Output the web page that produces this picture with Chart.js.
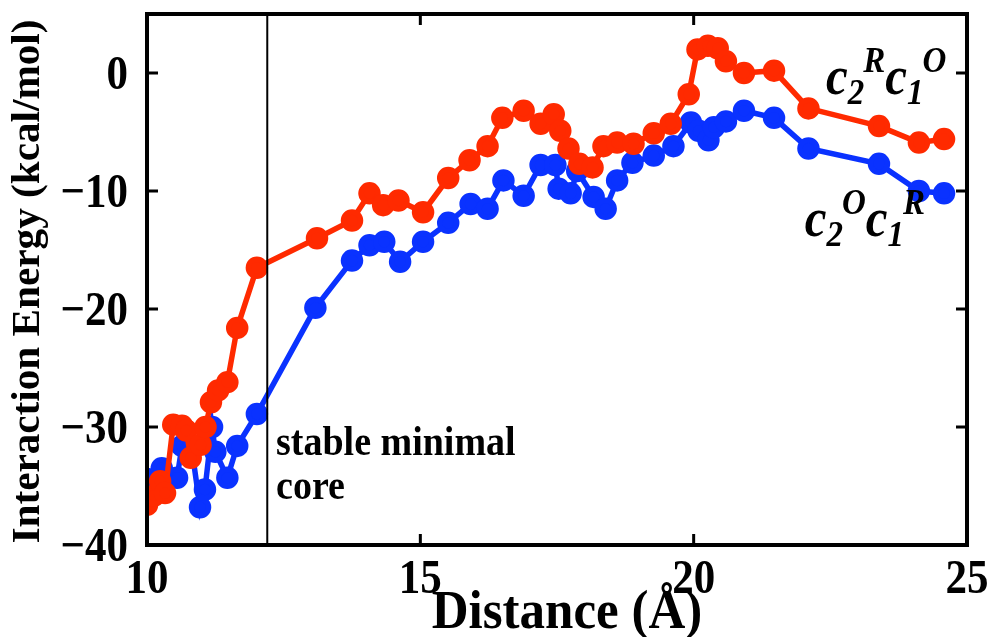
<!DOCTYPE html>
<html>
<head>
<meta charset="utf-8">
<script src="https://cdn.jsdelivr.net/npm/chart.js@4"></script>
<style>
  html, body { margin: 0; padding: 0; background: #fff; }
  #wrap { width: 995px; height: 637px; }
</style>
</head>
<body>
<div id="wrap"><canvas id="energyChart" width="995" height="637"></canvas></div>
<script>
// c2R c1O (red)
const redDist = [10.0, 10.13, 10.24, 10.33, 10.48, 10.64, 10.72, 10.8, 10.98, 11.07, 11.17, 11.3, 11.47, 11.65, 12.01,
  13.11, 13.75, 14.07, 14.32, 14.6, 15.05, 15.51, 15.9, 16.23, 16.5, 16.89, 17.2, 17.44, 17.56, 17.71, 17.91, 18.15,
  18.35, 18.6, 18.9, 19.27, 19.58, 19.91, 20.07, 20.26, 20.44, 20.59, 20.92, 21.47, 22.1, 23.39, 24.12, 24.58];
const redEnergy = [-36.6, -35.8, -34.6, -35.6, -29.8, -29.9, -30.3, -32.6, -31.5, -30.0, -27.9, -26.9, -26.2, -21.6, -16.5,
  -14.0, -12.5, -10.2, -11.2, -10.8, -11.8, -8.9, -7.4, -6.2, -3.8, -3.2, -4.3, -3.5, -4.9, -6.4, -7.7, -8.0,
  -6.2, -5.9, -6.0, -5.1, -4.3, -1.8, 2.0, 2.3, 2.1, 1.0, 0.0, 0.2, -3.0, -4.5, -5.9, -5.6];

// c2O c1R (blue)
const blueDist = [10.0, 10.27, 10.55, 10.64, 10.82, 10.97, 11.06, 11.19, 11.25, 11.47, 11.65, 12.01,
  13.08, 13.75, 14.07, 14.34, 14.63, 15.05, 15.51, 15.92, 16.23, 16.52, 16.89, 17.2, 17.47, 17.53, 17.75, 17.87,
  18.17, 18.39, 18.6, 18.88, 19.27, 19.63, 19.95, 20.09, 20.27, 20.37, 20.59, 20.92, 21.47, 22.1, 23.39, 24.12, 24.58];
const blueEnergy = [-34.4, -33.5, -34.3, -31.6, -31.9, -36.8, -35.3, -30.0, -32.1, -34.3, -31.6, -28.9,
  -19.9, -15.9, -14.6, -14.3, -16.0, -14.3, -12.7, -11.1, -11.5, -9.1, -10.4, -7.8, -7.8, -9.8, -10.2, -8.3,
  -10.5, -11.5, -9.1, -7.6, -7.0, -6.2, -4.2, -4.9, -5.7, -4.6, -4.1, -3.2, -3.8, -6.4, -7.7, -10.0, -10.2];

const xTicks = [10, 15, 20, 25];
const yTicks = [-40, -30, -20, -10, 0];
const coreLine = 12.2;
const xTitle = 'Distance (Å)';
const yTitle = 'Interaction Energy (kcal/mol)';

const serif = '"Liberation Serif", "Times New Roman", serif';
const estica = 1.13; // o texto do original é mais alto que largo

function pontos(xs, ys) {
  return xs.map((x, i) => ({ x: x, y: ys[i] }));
}

function texto(ctx, str, x, y, font, align, k) {
  ctx.save();
  ctx.translate(x, y);
  ctx.scale(1, k);
  ctx.font = font;
  ctx.textAlign = align;
  ctx.textBaseline = 'alphabetic';
  ctx.fillText(str, 0, 0);
  ctx.restore();
}

// moldura, ticks para dentro, linha vertical, rótulos e textos
const moldura = {
  id: 'moldura',
  afterDatasetsDraw(chart) {
    const { ctx, chartArea: a, scales: { x, y } } = chart;
    ctx.save();
    ctx.strokeStyle = '#000';

    // linha "stable minimal core"
    ctx.lineWidth = 2;
    const xc = x.getPixelForValue(coreLine);
    ctx.beginPath();
    ctx.moveTo(xc, a.top);
    ctx.lineTo(xc, a.bottom);
    ctx.stroke();

    // ticks
    ctx.lineWidth = 3;
    const tl = 11;
    ctx.beginPath();
    xTicks.forEach(v => {
      const px = x.getPixelForValue(v);
      ctx.moveTo(px, a.bottom); ctx.lineTo(px, a.bottom - tl);
      ctx.moveTo(px, a.top); ctx.lineTo(px, a.top + tl);
    });
    yTicks.forEach(v => {
      const py = y.getPixelForValue(v);
      ctx.moveTo(a.left, py); ctx.lineTo(a.left + tl, py);
      ctx.moveTo(a.right, py); ctx.lineTo(a.right - tl, py);
    });
    ctx.stroke();

    // moldura
    ctx.lineWidth = 4;
    ctx.strokeRect(a.left, a.top, a.right - a.left, a.bottom - a.top);

    ctx.fillStyle = '#000';
    const fTick = 'bold 43px ' + serif;

    // rótulos dos ticks
    xTicks.forEach(v => {
      texto(ctx, String(v), x.getPixelForValue(v), a.bottom + 48, fTick, 'center', estica);
    });
    yTicks.forEach(v => {
      const s = String(v).replace('-', '\u2212');
      texto(ctx, s, a.left - 19, y.getPixelForValue(v) + 16, fTick, 'right', estica);
    });

    // títulos
    texto(ctx, xTitle, (a.left + a.right) / 2 + 10, 628, 'bold 51px ' + serif, 'center', 1.08);
    ctx.save();
    ctx.translate(39, (a.top + a.bottom) / 2 + 2);
    ctx.rotate(-Math.PI / 2);
    ctx.scale(1.03, 1);
    ctx.font = 'bold 40px ' + serif;
    ctx.textAlign = 'center';
    ctx.textBaseline = 'alphabetic';
    ctx.fillText(yTitle, 0, 0);
    ctx.restore();

    // anotações
    const fAnot = 'bold 38px ' + serif;
    texto(ctx, 'stable minimal', x.getPixelForValue(12.36), y.getPixelForValue(-32.4), fAnot, 'left', estica);
    texto(ctx, 'core', x.getPixelForValue(12.36), y.getPixelForValue(-36.1), fAnot, 'left', estica);

    rotulo(ctx, x.getPixelForValue(22.42), y.getPixelForValue(-1.8), 'R', 'O');
    rotulo(ctx, x.getPixelForValue(22.03), y.getPixelForValue(-13.8), 'O', 'R');
    ctx.restore();
  }
};

function rotulo(ctx, x0, y0, sup1, sup2) {
  const partes = [
    ['c', 0, 49], ['2', 10, 33], [sup1, -22, 33],
    ['c', 0, 49], ['1', 10, 33], [sup2, -22, 33]
  ];
  let x = x0;
  partes.forEach(p => {
    const font = 'italic bold ' + p[2] + 'px ' + serif;
    texto(ctx, p[0], x, y0 + p[1], font, 'left', 1.1);
    ctx.font = font;
    x += ctx.measureText(p[0]).width + (p[1] > 0 ? -1 : 0);
  });
}

document.addEventListener('DOMContentLoaded', () => {
  const ctx = document.getElementById('energyChart').getContext('2d');
  new Chart(ctx, {
    type: 'scatter',
    data: {
      datasets: [
        {
          label: 'c2Rc1O',
          data: pontos(redDist, redEnergy),
          showLine: true,
          borderColor: '#ff2a00',
          backgroundColor: '#ff2a00',
          borderWidth: 5.5,
          pointRadius: 8.5,
          pointHoverRadius: 8.5,
          order: 0
        },
        {
          label: 'c2Oc1R',
          data: pontos(blueDist, blueEnergy),
          showLine: true,
          borderColor: '#0a32ff',
          backgroundColor: '#0a32ff',
          borderWidth: 5.5,
          pointRadius: 8.5,
          pointHoverRadius: 8.5,
          order: 1
        }
      ]
    },
    options: {
      responsive: false,
      animation: false,
      layout: { padding: { left: 0, right: 28, top: 14, bottom: 0 } },
      plugins: {
        legend: { display: false },
        tooltip: { enabled: false }
      },
      scales: {
        x: {
          type: 'linear',
          min: 10,
          max: 25,
          afterBuildTicks: s => { s.ticks = xTicks.map(v => ({ value: v })); },
          afterFit: s => { s.height = 92; },
          grid: { display: false, drawTicks: false },
          border: { display: false },
          ticks: { display: false }
        },
        y: {
          min: -40,
          max: 5,
          afterBuildTicks: s => { s.ticks = yTicks.map(v => ({ value: v })); },
          afterFit: s => { s.width = 147; },
          grid: { display: false, drawTicks: false },
          border: { display: false },
          ticks: { display: false }
        }
      }
    },
    plugins: [moldura]
  });
});
</script>
</body>
</html>
